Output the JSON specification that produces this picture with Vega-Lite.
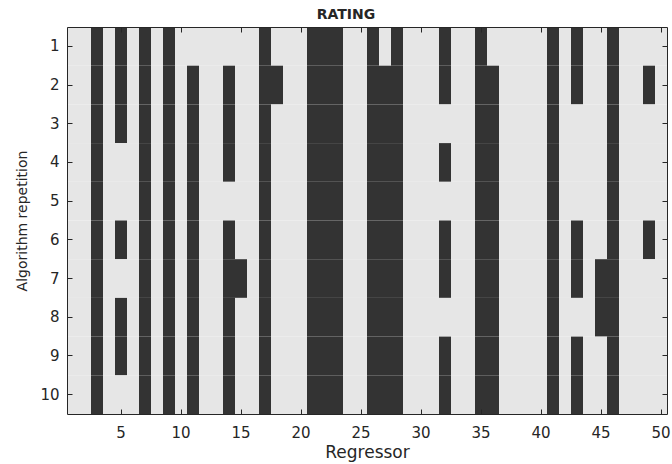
{
"$schema": "https://vega.github.io/schema/vega-lite/v6.json",
"width": 600,
"height": 387,
"autosize": {"type": "none"},
"padding": {"left": 67, "top": 27, "right": 5, "bottom": 50},
"background": "white",
"title": {"text": "RATING", "anchor": "middle", "dx": -21, "baseline": "alphabetic", "offset": -6, "font": "DejaVu Sans", "fontSize": 14, "fontWeight": "bold", "color": "#262626"},
"config": {
  "view": {"stroke": null},
  "axis": {"grid": false, "domainColor": "#262626", "domainWidth": 1, "tickColor": "#262626", "tickSize": -5, "tickWidth": 1, "labelFont": "DejaVu Sans", "labelFontSize": 15, "labelColor": "#262626", "labelAngle": 0, "titleFont": "DejaVu Sans", "titleFontWeight": "normal", "titleColor": "#262626"}
},
"data": {"values": [
{"rep":1,"reg":1,"sel":0},{"rep":1,"reg":2,"sel":0},{"rep":1,"reg":3,"sel":1},{"rep":1,"reg":4,"sel":0},{"rep":1,"reg":5,"sel":1},{"rep":1,"reg":6,"sel":0},{"rep":1,"reg":7,"sel":1},{"rep":1,"reg":8,"sel":0},{"rep":1,"reg":9,"sel":1},{"rep":1,"reg":10,"sel":0},
{"rep":1,"reg":11,"sel":0},{"rep":1,"reg":12,"sel":0},{"rep":1,"reg":13,"sel":0},{"rep":1,"reg":14,"sel":0},{"rep":1,"reg":15,"sel":0},{"rep":1,"reg":16,"sel":0},{"rep":1,"reg":17,"sel":1},{"rep":1,"reg":18,"sel":0},{"rep":1,"reg":19,"sel":0},{"rep":1,"reg":20,"sel":0},
{"rep":1,"reg":21,"sel":1},{"rep":1,"reg":22,"sel":1},{"rep":1,"reg":23,"sel":1},{"rep":1,"reg":24,"sel":0},{"rep":1,"reg":25,"sel":0},{"rep":1,"reg":26,"sel":1},{"rep":1,"reg":27,"sel":0},{"rep":1,"reg":28,"sel":1},{"rep":1,"reg":29,"sel":0},{"rep":1,"reg":30,"sel":0},
{"rep":1,"reg":31,"sel":0},{"rep":1,"reg":32,"sel":1},{"rep":1,"reg":33,"sel":0},{"rep":1,"reg":34,"sel":0},{"rep":1,"reg":35,"sel":1},{"rep":1,"reg":36,"sel":0},{"rep":1,"reg":37,"sel":0},{"rep":1,"reg":38,"sel":0},{"rep":1,"reg":39,"sel":0},{"rep":1,"reg":40,"sel":0},
{"rep":1,"reg":41,"sel":1},{"rep":1,"reg":42,"sel":0},{"rep":1,"reg":43,"sel":1},{"rep":1,"reg":44,"sel":0},{"rep":1,"reg":45,"sel":0},{"rep":1,"reg":46,"sel":1},{"rep":1,"reg":47,"sel":0},{"rep":1,"reg":48,"sel":0},{"rep":1,"reg":49,"sel":0},{"rep":1,"reg":50,"sel":0},
{"rep":2,"reg":1,"sel":0},{"rep":2,"reg":2,"sel":0},{"rep":2,"reg":3,"sel":1},{"rep":2,"reg":4,"sel":0},{"rep":2,"reg":5,"sel":1},{"rep":2,"reg":6,"sel":0},{"rep":2,"reg":7,"sel":1},{"rep":2,"reg":8,"sel":0},{"rep":2,"reg":9,"sel":1},{"rep":2,"reg":10,"sel":0},
{"rep":2,"reg":11,"sel":1},{"rep":2,"reg":12,"sel":0},{"rep":2,"reg":13,"sel":0},{"rep":2,"reg":14,"sel":1},{"rep":2,"reg":15,"sel":0},{"rep":2,"reg":16,"sel":0},{"rep":2,"reg":17,"sel":1},{"rep":2,"reg":18,"sel":1},{"rep":2,"reg":19,"sel":0},{"rep":2,"reg":20,"sel":0},
{"rep":2,"reg":21,"sel":1},{"rep":2,"reg":22,"sel":1},{"rep":2,"reg":23,"sel":1},{"rep":2,"reg":24,"sel":0},{"rep":2,"reg":25,"sel":0},{"rep":2,"reg":26,"sel":1},{"rep":2,"reg":27,"sel":1},{"rep":2,"reg":28,"sel":1},{"rep":2,"reg":29,"sel":0},{"rep":2,"reg":30,"sel":0},
{"rep":2,"reg":31,"sel":0},{"rep":2,"reg":32,"sel":1},{"rep":2,"reg":33,"sel":0},{"rep":2,"reg":34,"sel":0},{"rep":2,"reg":35,"sel":1},{"rep":2,"reg":36,"sel":1},{"rep":2,"reg":37,"sel":0},{"rep":2,"reg":38,"sel":0},{"rep":2,"reg":39,"sel":0},{"rep":2,"reg":40,"sel":0},
{"rep":2,"reg":41,"sel":1},{"rep":2,"reg":42,"sel":0},{"rep":2,"reg":43,"sel":1},{"rep":2,"reg":44,"sel":0},{"rep":2,"reg":45,"sel":0},{"rep":2,"reg":46,"sel":1},{"rep":2,"reg":47,"sel":0},{"rep":2,"reg":48,"sel":0},{"rep":2,"reg":49,"sel":1},{"rep":2,"reg":50,"sel":0},
{"rep":3,"reg":1,"sel":0},{"rep":3,"reg":2,"sel":0},{"rep":3,"reg":3,"sel":1},{"rep":3,"reg":4,"sel":0},{"rep":3,"reg":5,"sel":1},{"rep":3,"reg":6,"sel":0},{"rep":3,"reg":7,"sel":1},{"rep":3,"reg":8,"sel":0},{"rep":3,"reg":9,"sel":1},{"rep":3,"reg":10,"sel":0},
{"rep":3,"reg":11,"sel":1},{"rep":3,"reg":12,"sel":0},{"rep":3,"reg":13,"sel":0},{"rep":3,"reg":14,"sel":1},{"rep":3,"reg":15,"sel":0},{"rep":3,"reg":16,"sel":0},{"rep":3,"reg":17,"sel":1},{"rep":3,"reg":18,"sel":0},{"rep":3,"reg":19,"sel":0},{"rep":3,"reg":20,"sel":0},
{"rep":3,"reg":21,"sel":1},{"rep":3,"reg":22,"sel":1},{"rep":3,"reg":23,"sel":1},{"rep":3,"reg":24,"sel":0},{"rep":3,"reg":25,"sel":0},{"rep":3,"reg":26,"sel":1},{"rep":3,"reg":27,"sel":1},{"rep":3,"reg":28,"sel":1},{"rep":3,"reg":29,"sel":0},{"rep":3,"reg":30,"sel":0},
{"rep":3,"reg":31,"sel":0},{"rep":3,"reg":32,"sel":0},{"rep":3,"reg":33,"sel":0},{"rep":3,"reg":34,"sel":0},{"rep":3,"reg":35,"sel":1},{"rep":3,"reg":36,"sel":1},{"rep":3,"reg":37,"sel":0},{"rep":3,"reg":38,"sel":0},{"rep":3,"reg":39,"sel":0},{"rep":3,"reg":40,"sel":0},
{"rep":3,"reg":41,"sel":1},{"rep":3,"reg":42,"sel":0},{"rep":3,"reg":43,"sel":0},{"rep":3,"reg":44,"sel":0},{"rep":3,"reg":45,"sel":0},{"rep":3,"reg":46,"sel":1},{"rep":3,"reg":47,"sel":0},{"rep":3,"reg":48,"sel":0},{"rep":3,"reg":49,"sel":0},{"rep":3,"reg":50,"sel":0},
{"rep":4,"reg":1,"sel":0},{"rep":4,"reg":2,"sel":0},{"rep":4,"reg":3,"sel":1},{"rep":4,"reg":4,"sel":0},{"rep":4,"reg":5,"sel":0},{"rep":4,"reg":6,"sel":0},{"rep":4,"reg":7,"sel":1},{"rep":4,"reg":8,"sel":0},{"rep":4,"reg":9,"sel":1},{"rep":4,"reg":10,"sel":0},
{"rep":4,"reg":11,"sel":1},{"rep":4,"reg":12,"sel":0},{"rep":4,"reg":13,"sel":0},{"rep":4,"reg":14,"sel":1},{"rep":4,"reg":15,"sel":0},{"rep":4,"reg":16,"sel":0},{"rep":4,"reg":17,"sel":1},{"rep":4,"reg":18,"sel":0},{"rep":4,"reg":19,"sel":0},{"rep":4,"reg":20,"sel":0},
{"rep":4,"reg":21,"sel":1},{"rep":4,"reg":22,"sel":1},{"rep":4,"reg":23,"sel":1},{"rep":4,"reg":24,"sel":0},{"rep":4,"reg":25,"sel":0},{"rep":4,"reg":26,"sel":1},{"rep":4,"reg":27,"sel":1},{"rep":4,"reg":28,"sel":1},{"rep":4,"reg":29,"sel":0},{"rep":4,"reg":30,"sel":0},
{"rep":4,"reg":31,"sel":0},{"rep":4,"reg":32,"sel":1},{"rep":4,"reg":33,"sel":0},{"rep":4,"reg":34,"sel":0},{"rep":4,"reg":35,"sel":1},{"rep":4,"reg":36,"sel":1},{"rep":4,"reg":37,"sel":0},{"rep":4,"reg":38,"sel":0},{"rep":4,"reg":39,"sel":0},{"rep":4,"reg":40,"sel":0},
{"rep":4,"reg":41,"sel":1},{"rep":4,"reg":42,"sel":0},{"rep":4,"reg":43,"sel":0},{"rep":4,"reg":44,"sel":0},{"rep":4,"reg":45,"sel":0},{"rep":4,"reg":46,"sel":1},{"rep":4,"reg":47,"sel":0},{"rep":4,"reg":48,"sel":0},{"rep":4,"reg":49,"sel":0},{"rep":4,"reg":50,"sel":0},
{"rep":5,"reg":1,"sel":0},{"rep":5,"reg":2,"sel":0},{"rep":5,"reg":3,"sel":1},{"rep":5,"reg":4,"sel":0},{"rep":5,"reg":5,"sel":0},{"rep":5,"reg":6,"sel":0},{"rep":5,"reg":7,"sel":1},{"rep":5,"reg":8,"sel":0},{"rep":5,"reg":9,"sel":1},{"rep":5,"reg":10,"sel":0},
{"rep":5,"reg":11,"sel":1},{"rep":5,"reg":12,"sel":0},{"rep":5,"reg":13,"sel":0},{"rep":5,"reg":14,"sel":0},{"rep":5,"reg":15,"sel":0},{"rep":5,"reg":16,"sel":0},{"rep":5,"reg":17,"sel":1},{"rep":5,"reg":18,"sel":0},{"rep":5,"reg":19,"sel":0},{"rep":5,"reg":20,"sel":0},
{"rep":5,"reg":21,"sel":1},{"rep":5,"reg":22,"sel":1},{"rep":5,"reg":23,"sel":1},{"rep":5,"reg":24,"sel":0},{"rep":5,"reg":25,"sel":0},{"rep":5,"reg":26,"sel":1},{"rep":5,"reg":27,"sel":1},{"rep":5,"reg":28,"sel":1},{"rep":5,"reg":29,"sel":0},{"rep":5,"reg":30,"sel":0},
{"rep":5,"reg":31,"sel":0},{"rep":5,"reg":32,"sel":0},{"rep":5,"reg":33,"sel":0},{"rep":5,"reg":34,"sel":0},{"rep":5,"reg":35,"sel":1},{"rep":5,"reg":36,"sel":1},{"rep":5,"reg":37,"sel":0},{"rep":5,"reg":38,"sel":0},{"rep":5,"reg":39,"sel":0},{"rep":5,"reg":40,"sel":0},
{"rep":5,"reg":41,"sel":1},{"rep":5,"reg":42,"sel":0},{"rep":5,"reg":43,"sel":0},{"rep":5,"reg":44,"sel":0},{"rep":5,"reg":45,"sel":0},{"rep":5,"reg":46,"sel":1},{"rep":5,"reg":47,"sel":0},{"rep":5,"reg":48,"sel":0},{"rep":5,"reg":49,"sel":0},{"rep":5,"reg":50,"sel":0},
{"rep":6,"reg":1,"sel":0},{"rep":6,"reg":2,"sel":0},{"rep":6,"reg":3,"sel":1},{"rep":6,"reg":4,"sel":0},{"rep":6,"reg":5,"sel":1},{"rep":6,"reg":6,"sel":0},{"rep":6,"reg":7,"sel":1},{"rep":6,"reg":8,"sel":0},{"rep":6,"reg":9,"sel":1},{"rep":6,"reg":10,"sel":0},
{"rep":6,"reg":11,"sel":1},{"rep":6,"reg":12,"sel":0},{"rep":6,"reg":13,"sel":0},{"rep":6,"reg":14,"sel":1},{"rep":6,"reg":15,"sel":0},{"rep":6,"reg":16,"sel":0},{"rep":6,"reg":17,"sel":1},{"rep":6,"reg":18,"sel":0},{"rep":6,"reg":19,"sel":0},{"rep":6,"reg":20,"sel":0},
{"rep":6,"reg":21,"sel":1},{"rep":6,"reg":22,"sel":1},{"rep":6,"reg":23,"sel":1},{"rep":6,"reg":24,"sel":0},{"rep":6,"reg":25,"sel":0},{"rep":6,"reg":26,"sel":1},{"rep":6,"reg":27,"sel":1},{"rep":6,"reg":28,"sel":1},{"rep":6,"reg":29,"sel":0},{"rep":6,"reg":30,"sel":0},
{"rep":6,"reg":31,"sel":0},{"rep":6,"reg":32,"sel":1},{"rep":6,"reg":33,"sel":0},{"rep":6,"reg":34,"sel":0},{"rep":6,"reg":35,"sel":1},{"rep":6,"reg":36,"sel":1},{"rep":6,"reg":37,"sel":0},{"rep":6,"reg":38,"sel":0},{"rep":6,"reg":39,"sel":0},{"rep":6,"reg":40,"sel":0},
{"rep":6,"reg":41,"sel":1},{"rep":6,"reg":42,"sel":0},{"rep":6,"reg":43,"sel":1},{"rep":6,"reg":44,"sel":0},{"rep":6,"reg":45,"sel":0},{"rep":6,"reg":46,"sel":1},{"rep":6,"reg":47,"sel":0},{"rep":6,"reg":48,"sel":0},{"rep":6,"reg":49,"sel":1},{"rep":6,"reg":50,"sel":0},
{"rep":7,"reg":1,"sel":0},{"rep":7,"reg":2,"sel":0},{"rep":7,"reg":3,"sel":1},{"rep":7,"reg":4,"sel":0},{"rep":7,"reg":5,"sel":0},{"rep":7,"reg":6,"sel":0},{"rep":7,"reg":7,"sel":1},{"rep":7,"reg":8,"sel":0},{"rep":7,"reg":9,"sel":1},{"rep":7,"reg":10,"sel":0},
{"rep":7,"reg":11,"sel":1},{"rep":7,"reg":12,"sel":0},{"rep":7,"reg":13,"sel":0},{"rep":7,"reg":14,"sel":1},{"rep":7,"reg":15,"sel":1},{"rep":7,"reg":16,"sel":0},{"rep":7,"reg":17,"sel":1},{"rep":7,"reg":18,"sel":0},{"rep":7,"reg":19,"sel":0},{"rep":7,"reg":20,"sel":0},
{"rep":7,"reg":21,"sel":1},{"rep":7,"reg":22,"sel":1},{"rep":7,"reg":23,"sel":1},{"rep":7,"reg":24,"sel":0},{"rep":7,"reg":25,"sel":0},{"rep":7,"reg":26,"sel":1},{"rep":7,"reg":27,"sel":1},{"rep":7,"reg":28,"sel":1},{"rep":7,"reg":29,"sel":0},{"rep":7,"reg":30,"sel":0},
{"rep":7,"reg":31,"sel":0},{"rep":7,"reg":32,"sel":1},{"rep":7,"reg":33,"sel":0},{"rep":7,"reg":34,"sel":0},{"rep":7,"reg":35,"sel":1},{"rep":7,"reg":36,"sel":1},{"rep":7,"reg":37,"sel":0},{"rep":7,"reg":38,"sel":0},{"rep":7,"reg":39,"sel":0},{"rep":7,"reg":40,"sel":0},
{"rep":7,"reg":41,"sel":1},{"rep":7,"reg":42,"sel":0},{"rep":7,"reg":43,"sel":1},{"rep":7,"reg":44,"sel":0},{"rep":7,"reg":45,"sel":1},{"rep":7,"reg":46,"sel":1},{"rep":7,"reg":47,"sel":0},{"rep":7,"reg":48,"sel":0},{"rep":7,"reg":49,"sel":0},{"rep":7,"reg":50,"sel":0},
{"rep":8,"reg":1,"sel":0},{"rep":8,"reg":2,"sel":0},{"rep":8,"reg":3,"sel":1},{"rep":8,"reg":4,"sel":0},{"rep":8,"reg":5,"sel":1},{"rep":8,"reg":6,"sel":0},{"rep":8,"reg":7,"sel":1},{"rep":8,"reg":8,"sel":0},{"rep":8,"reg":9,"sel":1},{"rep":8,"reg":10,"sel":0},
{"rep":8,"reg":11,"sel":1},{"rep":8,"reg":12,"sel":0},{"rep":8,"reg":13,"sel":0},{"rep":8,"reg":14,"sel":1},{"rep":8,"reg":15,"sel":0},{"rep":8,"reg":16,"sel":0},{"rep":8,"reg":17,"sel":1},{"rep":8,"reg":18,"sel":0},{"rep":8,"reg":19,"sel":0},{"rep":8,"reg":20,"sel":0},
{"rep":8,"reg":21,"sel":1},{"rep":8,"reg":22,"sel":1},{"rep":8,"reg":23,"sel":1},{"rep":8,"reg":24,"sel":0},{"rep":8,"reg":25,"sel":0},{"rep":8,"reg":26,"sel":1},{"rep":8,"reg":27,"sel":1},{"rep":8,"reg":28,"sel":1},{"rep":8,"reg":29,"sel":0},{"rep":8,"reg":30,"sel":0},
{"rep":8,"reg":31,"sel":0},{"rep":8,"reg":32,"sel":0},{"rep":8,"reg":33,"sel":0},{"rep":8,"reg":34,"sel":0},{"rep":8,"reg":35,"sel":1},{"rep":8,"reg":36,"sel":1},{"rep":8,"reg":37,"sel":0},{"rep":8,"reg":38,"sel":0},{"rep":8,"reg":39,"sel":0},{"rep":8,"reg":40,"sel":0},
{"rep":8,"reg":41,"sel":1},{"rep":8,"reg":42,"sel":0},{"rep":8,"reg":43,"sel":0},{"rep":8,"reg":44,"sel":0},{"rep":8,"reg":45,"sel":1},{"rep":8,"reg":46,"sel":1},{"rep":8,"reg":47,"sel":0},{"rep":8,"reg":48,"sel":0},{"rep":8,"reg":49,"sel":0},{"rep":8,"reg":50,"sel":0},
{"rep":9,"reg":1,"sel":0},{"rep":9,"reg":2,"sel":0},{"rep":9,"reg":3,"sel":1},{"rep":9,"reg":4,"sel":0},{"rep":9,"reg":5,"sel":1},{"rep":9,"reg":6,"sel":0},{"rep":9,"reg":7,"sel":1},{"rep":9,"reg":8,"sel":0},{"rep":9,"reg":9,"sel":1},{"rep":9,"reg":10,"sel":0},
{"rep":9,"reg":11,"sel":1},{"rep":9,"reg":12,"sel":0},{"rep":9,"reg":13,"sel":0},{"rep":9,"reg":14,"sel":1},{"rep":9,"reg":15,"sel":0},{"rep":9,"reg":16,"sel":0},{"rep":9,"reg":17,"sel":1},{"rep":9,"reg":18,"sel":0},{"rep":9,"reg":19,"sel":0},{"rep":9,"reg":20,"sel":0},
{"rep":9,"reg":21,"sel":1},{"rep":9,"reg":22,"sel":1},{"rep":9,"reg":23,"sel":1},{"rep":9,"reg":24,"sel":0},{"rep":9,"reg":25,"sel":0},{"rep":9,"reg":26,"sel":1},{"rep":9,"reg":27,"sel":1},{"rep":9,"reg":28,"sel":1},{"rep":9,"reg":29,"sel":0},{"rep":9,"reg":30,"sel":0},
{"rep":9,"reg":31,"sel":0},{"rep":9,"reg":32,"sel":1},{"rep":9,"reg":33,"sel":0},{"rep":9,"reg":34,"sel":0},{"rep":9,"reg":35,"sel":1},{"rep":9,"reg":36,"sel":1},{"rep":9,"reg":37,"sel":0},{"rep":9,"reg":38,"sel":0},{"rep":9,"reg":39,"sel":0},{"rep":9,"reg":40,"sel":0},
{"rep":9,"reg":41,"sel":1},{"rep":9,"reg":42,"sel":0},{"rep":9,"reg":43,"sel":1},{"rep":9,"reg":44,"sel":0},{"rep":9,"reg":45,"sel":0},{"rep":9,"reg":46,"sel":1},{"rep":9,"reg":47,"sel":0},{"rep":9,"reg":48,"sel":0},{"rep":9,"reg":49,"sel":0},{"rep":9,"reg":50,"sel":0},
{"rep":10,"reg":1,"sel":0},{"rep":10,"reg":2,"sel":0},{"rep":10,"reg":3,"sel":1},{"rep":10,"reg":4,"sel":0},{"rep":10,"reg":5,"sel":0},{"rep":10,"reg":6,"sel":0},{"rep":10,"reg":7,"sel":1},{"rep":10,"reg":8,"sel":0},{"rep":10,"reg":9,"sel":1},{"rep":10,"reg":10,"sel":0},
{"rep":10,"reg":11,"sel":1},{"rep":10,"reg":12,"sel":0},{"rep":10,"reg":13,"sel":0},{"rep":10,"reg":14,"sel":1},{"rep":10,"reg":15,"sel":0},{"rep":10,"reg":16,"sel":0},{"rep":10,"reg":17,"sel":1},{"rep":10,"reg":18,"sel":0},{"rep":10,"reg":19,"sel":0},{"rep":10,"reg":20,"sel":0},
{"rep":10,"reg":21,"sel":1},{"rep":10,"reg":22,"sel":1},{"rep":10,"reg":23,"sel":1},{"rep":10,"reg":24,"sel":0},{"rep":10,"reg":25,"sel":0},{"rep":10,"reg":26,"sel":1},{"rep":10,"reg":27,"sel":1},{"rep":10,"reg":28,"sel":1},{"rep":10,"reg":29,"sel":0},{"rep":10,"reg":30,"sel":0},
{"rep":10,"reg":31,"sel":0},{"rep":10,"reg":32,"sel":1},{"rep":10,"reg":33,"sel":0},{"rep":10,"reg":34,"sel":0},{"rep":10,"reg":35,"sel":1},{"rep":10,"reg":36,"sel":1},{"rep":10,"reg":37,"sel":0},{"rep":10,"reg":38,"sel":0},{"rep":10,"reg":39,"sel":0},{"rep":10,"reg":40,"sel":0},
{"rep":10,"reg":41,"sel":1},{"rep":10,"reg":42,"sel":0},{"rep":10,"reg":43,"sel":1},{"rep":10,"reg":44,"sel":0},{"rep":10,"reg":45,"sel":0},{"rep":10,"reg":46,"sel":1},{"rep":10,"reg":47,"sel":0},{"rep":10,"reg":48,"sel":0},{"rep":10,"reg":49,"sel":0},{"rep":10,"reg":50,"sel":0}
]},
"layer": [
  {
    "mark": {"type": "rect"},
    "encoding": {
      "x": {"field": "reg", "type": "ordinal", "scale": {"paddingInner": 0, "paddingOuter": 0},
            "axis": {"orient": "bottom", "values": [5,10,15,20,25,30,35,40,45,50], "labelPadding": 16, "title": "Regressor", "titleFontSize": 17, "titlePadding": 4}},
      "y": {"field": "rep", "type": "ordinal", "scale": {"paddingInner": 0, "paddingOuter": 0},
            "axis": {"orient": "left", "labelPadding": 13, "title": "Algorithm repetition", "titleFontSize": 14, "titlePadding": 10}},
      "color": {"field": "sel", "type": "nominal", "scale": {"domain": [0, 1], "range": ["#e6e6e6", "#333333"]}, "legend": null}
    }
  },
  {
    "mark": {"type": "rect", "opacity": 0},
    "encoding": {
      "x": {"field": "reg", "type": "ordinal",
            "axis": {"orient": "top", "values": [5,10,15,20,25,30,35,40,45,50], "labels": false, "title": null}},
      "y": {"field": "rep", "type": "ordinal",
            "axis": {"orient": "right", "labels": false, "title": null}}
    }
  }
],
"resolve": {"axis": {"x": "independent", "y": "independent"}}
}
